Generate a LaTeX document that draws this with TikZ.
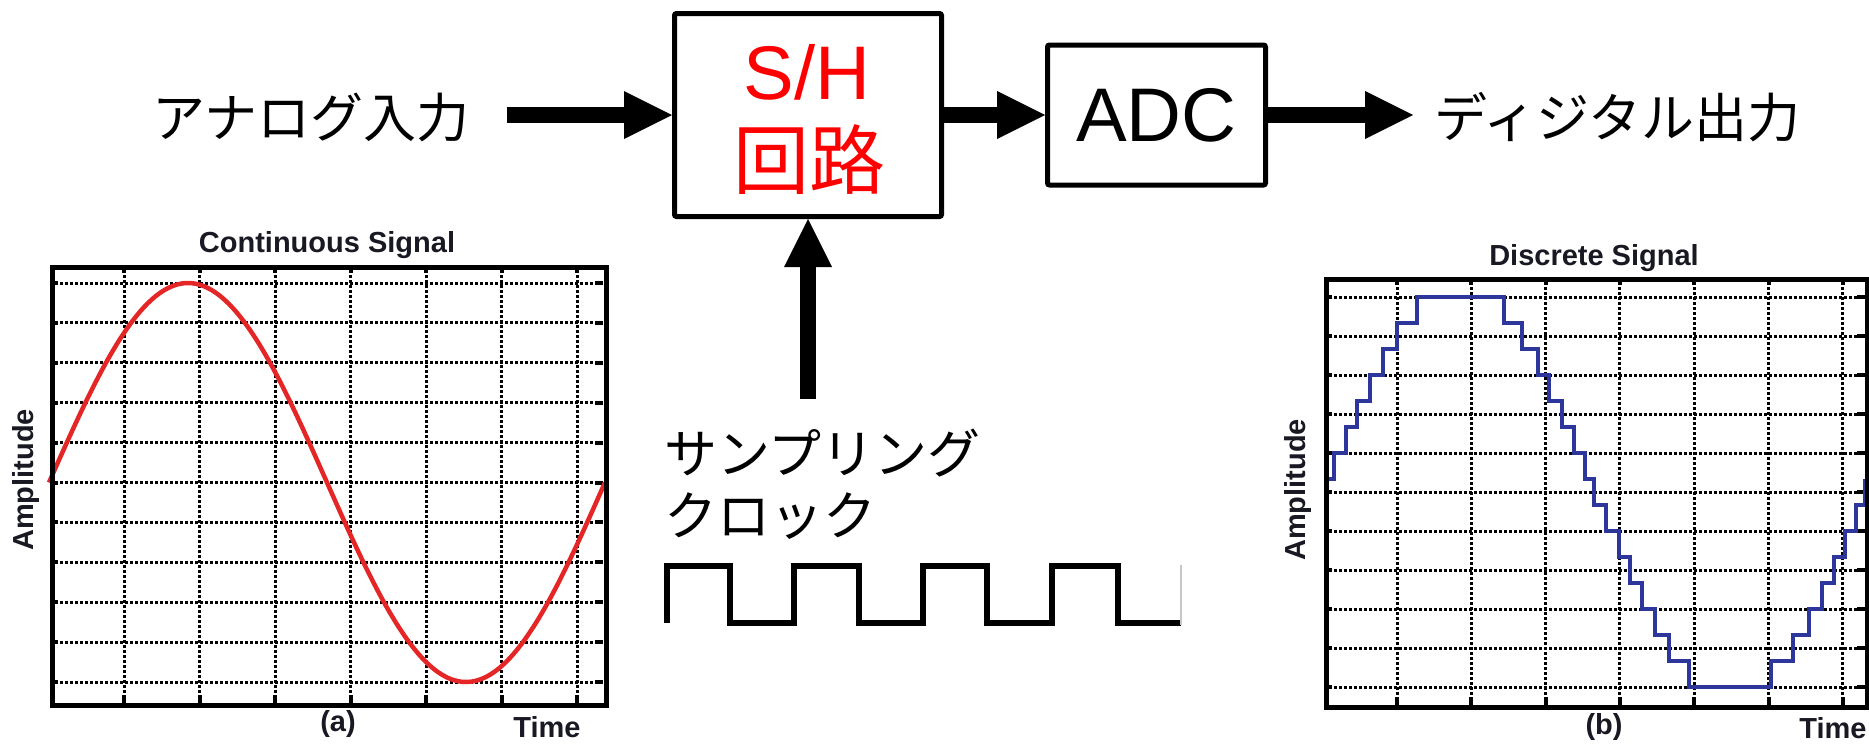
\documentclass[tikz,border=0pt]{standalone}
\usepackage{fontspec}
\setmainfont{Liberation Sans}
\newfontfamily\jp{Noto Sans CJK JP}
\usetikzlibrary{arrows.meta}
\definecolor{shred}{RGB}{255,0,0}
\definecolor{sinered}{RGB}{228,38,38}
\definecolor{stairblue}{RGB}{45,55,155}
\definecolor{plotink}{RGB}{25,25,35}
\begin{document}
\begin{tikzpicture}[x=1pt,y=-1pt,
  block/.style={draw=black, line width=5pt, rounded corners=2pt, inner sep=0pt},
  bigarrow/.style={line width=16pt, -{Triangle[width=48pt,length=48pt,line width=0pt]}},
  jplabel/.style={font=\jp\fontsize{53}{60}\selectfont, inner sep=0pt, anchor=west},
  plotframe/.style={draw=black, line width=5pt, inner sep=0pt, anchor=north west},
  gridline/.style={black, line width=3pt, dash pattern=on 2.5pt off 2.5pt},
  tickmark/.style={black, line width=4pt},
  sineline/.style={sinered, line width=4.5pt},
  stairline/.style={stairblue, line width=4.5pt, line join=miter},
  clockline/.style={black, line width=6pt, line join=miter},
  plottitle/.style={font=\bfseries\fontsize{29}{32}\selectfont, text=plotink, inner sep=0pt, anchor=base},
  axislabel/.style={font=\bfseries\fontsize{29}{32}\selectfont, text=plotink, inner sep=0pt},
  sublabel/.style={font=\bfseries\fontsize{29}{32}\selectfont, text=plotink, inner sep=0pt}
]
\useasboundingbox (0,0) rectangle (1869,745);

% ---------- signal chain ----------
\node[jplabel] (ain) at (152,117) {アナログ入力};
\node[block, minimum width=267pt, minimum height=203pt] (sh) at (808,115) {};
\node[font=\fontsize{76}{80}\selectfont, text=shred, inner sep=0pt, anchor=base] (shtop) at (807,99) {S/H};
\node[font=\jp\fontsize{76}{80}\selectfont, text=shred, inner sep=0pt] (shbot) at (809,160) {回路};
\node[block, minimum width=218pt, minimum height=140pt, font=\fontsize{76}{80}\selectfont] (adc) at (1156.5,115) {ADC};
\node[jplabel] (dout) at (1434,117) {ディジタル出力};

\coordinate (ainTail) at (507,115);
\coordinate (doutTip) at (1413,115);
\coordinate (clkTail) at (808,399);
\draw[bigarrow] (ainTail) -- (sh.west);
\draw[bigarrow] (sh.east) -- (adc.west);
\draw[bigarrow] (adc.east) -- (doutTip);
\draw[bigarrow] (clkTail) -- (sh.south);

% ---------- sampling clock ----------
\node[jplabel] (clkA) at (664,453) {サンプリング};
\node[jplabel] (clkB) at (664,516) {クロック};
\draw[clockline] (667,623) -- (667,566) -- (730,566) -- (730,623) -- (794,623)
  -- (794,566) -- (859,566) -- (859,623) -- (923,623) -- (923,566) -- (987,566)
  -- (987,623) -- (1052,623) -- (1052,566) -- (1118,566) -- (1118,623) -- (1181,623);
\draw[black!22, line width=1.5pt] (1181,565) -- (1181,625);

% ---------- continuous signal plot ----------
\foreach \gx in {124,199.5,275,350.5,426,501.5,577} {
  \draw[gridline] (\gx,265) -- (\gx,703);
  \draw[tickmark] (\gx,265) -- (\gx,273);
  \draw[tickmark] (\gx,703) -- (\gx,695);
}
\foreach \k in {0,...,10} {
  \draw[gridline] (50,{283+39.9*\k}) -- (603,{283+39.9*\k});
  \draw[tickmark] (50,{283+39.9*\k}) -- (58,{283+39.9*\k});
  \draw[tickmark] (603,{283+39.9*\k}) -- (595,{283+39.9*\k});
}
% one full period across the frame; \x is the phase in degrees
\draw[sineline] plot[domain=0:360, samples=160, smooth] ({49+\x/360*556},{482.5-199.5*sin(\x)});
\node[plotframe, minimum width=554pt, minimum height=438.5pt] (plotA) at (49.5,264.5) {};
\node[plottitle] (titleA) at (327,252) {Continuous Signal};
\node[axislabel, rotate=90] (ampA) at (26,480) {Amplitude};
\node[sublabel] (capA) at (338,723.5) {(a)};
\node[axislabel] (timeA) at (547,727.5) {Time};

% ---------- discrete signal plot ----------
\foreach \gx in {1397,1471.3,1545.6,1619.9,1694.2,1768.5,1842.8} {
  \draw[gridline] (\gx,277) -- (\gx,705);
  \draw[tickmark] (\gx,277) -- (\gx,285);
  \draw[tickmark] (\gx,705) -- (\gx,697);
}
\foreach \k in {0,...,10} {
  \draw[gridline] (1324,{297+39*\k}) -- (1865,{297+39*\k});
  \draw[tickmark] (1324,{297+39*\k}) -- (1332,{297+39*\k});
  \draw[tickmark] (1865,{297+39*\k}) -- (1857,{297+39*\k});
}
\draw[stairline] (1324,479) -| (1334,453) -| (1346,427) -| (1357,401) -| (1370,375)
  -| (1383,349) -| (1397,323) -| (1417,297) -| (1504,323) -| (1522,349) -| (1538,375)
  -| (1549,401) -| (1562,427) -| (1574,453) -| (1585,479) -| (1594,505) -| (1606,531)
  -| (1619,557) -| (1630,583) -| (1642,609) -| (1655,635) -| (1669,661) -| (1689,687)
  -| (1771,661) -| (1793,635) -| (1809,609) -| (1822,583) -| (1834,557) -| (1845,531)
  -| (1856,505) -| (1865,479);
\node[plotframe, minimum width=541.5pt, minimum height=428pt] (plotB) at (1323.5,277) {};
\node[plottitle] (titleB) at (1594,265) {Discrete Signal};
\node[axislabel, rotate=90] (ampB) at (1298,490) {Amplitude};
\node[sublabel] (capB) at (1604,727) {(b)};
\node[axislabel] (timeB) at (1833,728) {Time};
\end{tikzpicture}
\end{document}
